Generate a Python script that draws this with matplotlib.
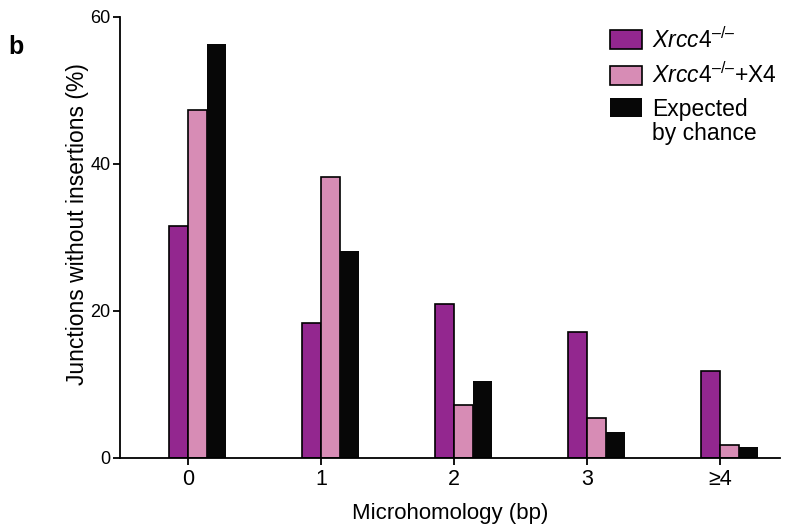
import numpy as np
import matplotlib
matplotlib.use("Agg")
import matplotlib.pyplot as plt

plt.rcParams['font.family'] = ['Liberation Sans', 'DejaVu Sans']
plt.rcParams['mathtext.fontset'] = 'custom'
plt.rcParams['mathtext.rm'] = 'Liberation Sans'
plt.rcParams['mathtext.it'] = 'Liberation Sans:italic'

# data
categories = ['0', '1', '2', '3', '\u22654']
xrcc4_ko = [31.6, 18.4, 21.0, 17.1, 11.8]
xrcc4_ko_x4 = [47.3, 38.2, 7.2, 5.4, 1.8]
expected = [56.3, 28.2, 10.5, 3.6, 1.5]

labels = ['$\\mathit{Xrcc4}^{\\mathit{\u2013/\u2013}}$',
          '$\\mathit{Xrcc4}^{\\mathit{\u2013/\u2013}}$+X4',
          'Expected']
colors = ['#93278F', '#D78CB5', '#070707']

fig = plt.figure(figsize=(7.86, 5.31), dpi=100)
ax = fig.add_axes([0.153, 0.1375, 0.839, 0.8305])

x = np.arange(len(categories))
w = 0.143
ax.bar(x - 0.5 * w, xrcc4_ko, w, color=colors[0], edgecolor='black', lw=1.2, label=labels[0])
ax.bar(x + 0.5 * w, xrcc4_ko_x4, w, color=colors[1], edgecolor='black', lw=1.2, label=labels[1])
ax.bar(x + 1.5 * w, expected, w, color=colors[2], edgecolor='none', label=labels[2])

ax.set_xlim(-0.51, 4.45)
ax.set_ylim(0, 60)
ax.set_yticks([0, 20, 40, 60])
ax.set_xticks(x)
ax.set_xticklabels(categories)

for s in ['top', 'right']:
    ax.spines[s].set_visible(False)
for s in ['left', 'bottom']:
    ax.spines[s].set_linewidth(1.3)
ax.tick_params(axis='both', width=1.3, length=5, color='black')
ax.tick_params(axis='y', labelsize=13, pad=2)
ax.tick_params(axis='x', labelsize=15.5, pad=3)

ax.set_xlabel('Microhomology (bp)', fontsize=16, labelpad=9)
ax.set_ylabel('Junctions without insertions (%)', fontsize=16.5)
ax.yaxis.set_label_coords(-0.047, 0.531)

fig.text(0.01, 0.898, 'b', fontsize=18, fontweight='bold')

leg = ax.legend(loc='upper left', bbox_to_anchor=(610 / 786, 1 - 27 / 531),
                bbox_transform=fig.transFigure, frameon=False,
                fontsize=16.5, handlelength=1.4, handleheight=0.9,
                handletextpad=0.45, labelspacing=0.42, borderpad=0, borderaxespad=0)

# second line of the last legend entry, under "Expected"
fig.canvas.draw()
bb = leg.get_texts()[2].get_window_extent()
fig.text(bb.x0 / 786, (bb.y0 - 1) / 531, 'by chance', fontsize=16.5, va='top', ha='left')

fig.savefig('out.png', dpi=100)
